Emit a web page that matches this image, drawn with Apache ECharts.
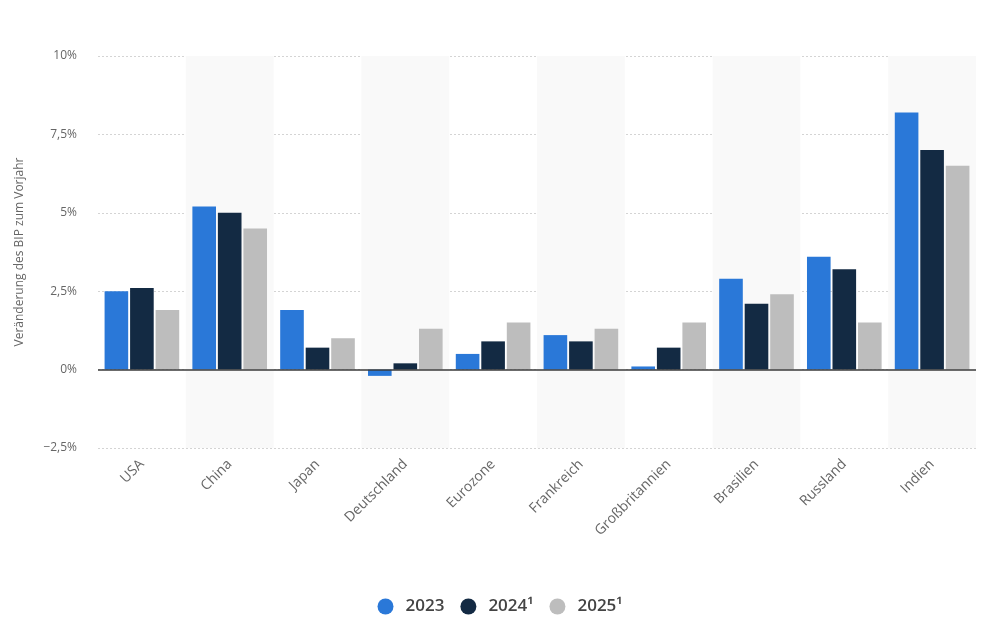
<!DOCTYPE html>
<html><head><meta charset="utf-8">
<script src="https://cdn.jsdelivr.net/npm/echarts@6/dist/echarts.min.js"></script>
<style>html,body{margin:0;padding:0;background:#fff}#c{width:1000px;height:642px}</style>
</head><body><div id="c"></div>
<script>
const categories = ["USA","China","Japan","Deutschland","Eurozone","Frankreich","Großbritannien","Brasilien","Russland","Indien"];
const seriesNames = ["2023","2024¹","2025¹"];
const v2023 = [2.5, 5.2, 1.9, -0.2, 0.5, 1.1, 0.1, 2.9, 3.6, 8.2];
const v2024 = [2.6, 5.0, 0.7, 0.2, 0.9, 0.9, 0.7, 2.1, 3.2, 7.0];
const v2025 = [1.9, 4.5, 1.0, 1.3, 1.5, 1.3, 1.5, 2.4, 1.5, 6.5];
const colors = ["#2a78d8", "#132a43", "#bdbdbd"];
const font = "'Open Sans', 'Noto Sans', sans-serif";

const chart = echarts.init(document.getElementById('c'), null, {renderer:'canvas'});
const data = [v2023, v2024, v2025];
chart.setOption({
  animation:false,
  color: colors,
  textStyle:{fontFamily:font},
  grid:{left:98, right:24, top:56, bottom:194},
  legend:{
    bottom:22, left:'center', icon:'circle', itemWidth:16, itemHeight:16, itemGap:16,
    textStyle:{fontSize:17, color:'#444', fontWeight:600, fontFamily:font, padding:[0,0,0,7]},
    data: seriesNames
  },
  xAxis:{
    type:'category', data:categories, position:'bottom',
    axisLine:{show:false, onZero:false}, axisTick:{show:false},
    axisLabel:{rotate:45, color:'#666', fontSize:14, margin:14, interval:0},
    splitArea:{show:true, areaStyle:{color:['rgba(255,255,255,0)','#f9f9f9']}}
  },
  yAxis:{
    type:'value', min:-2.5, max:10, interval:2.5,
    name:'Veränderung des BIP zum Vorjahr', nameLocation:'middle', nameGap:72,
    nameTextStyle:{color:'#666', fontSize:12},
    axisLine:{show:false}, axisTick:{show:false},
    axisLabel:{color:'#666', fontSize:12, margin:21,
      formatter:v=> (v<0?'−':'') + String(Math.abs(v)).replace('.',',') + '%'},
    splitLine:{lineStyle:{color:'#d4d4d4', type:[2,2], width:1}}
  },
  series: data.map((d,i)=>({
    name:seriesNames[i], type:'bar', data:d,
    barCategoryGap:'15%', barGap:'8%',
    markLine: i===0 ? {silent:true, symbol:'none', label:{show:false},
      lineStyle:{color:'#3a3a3a', type:'solid', width:1.5}, data:[{yAxis:0}]} : undefined
  }))
});
</script></body></html>
